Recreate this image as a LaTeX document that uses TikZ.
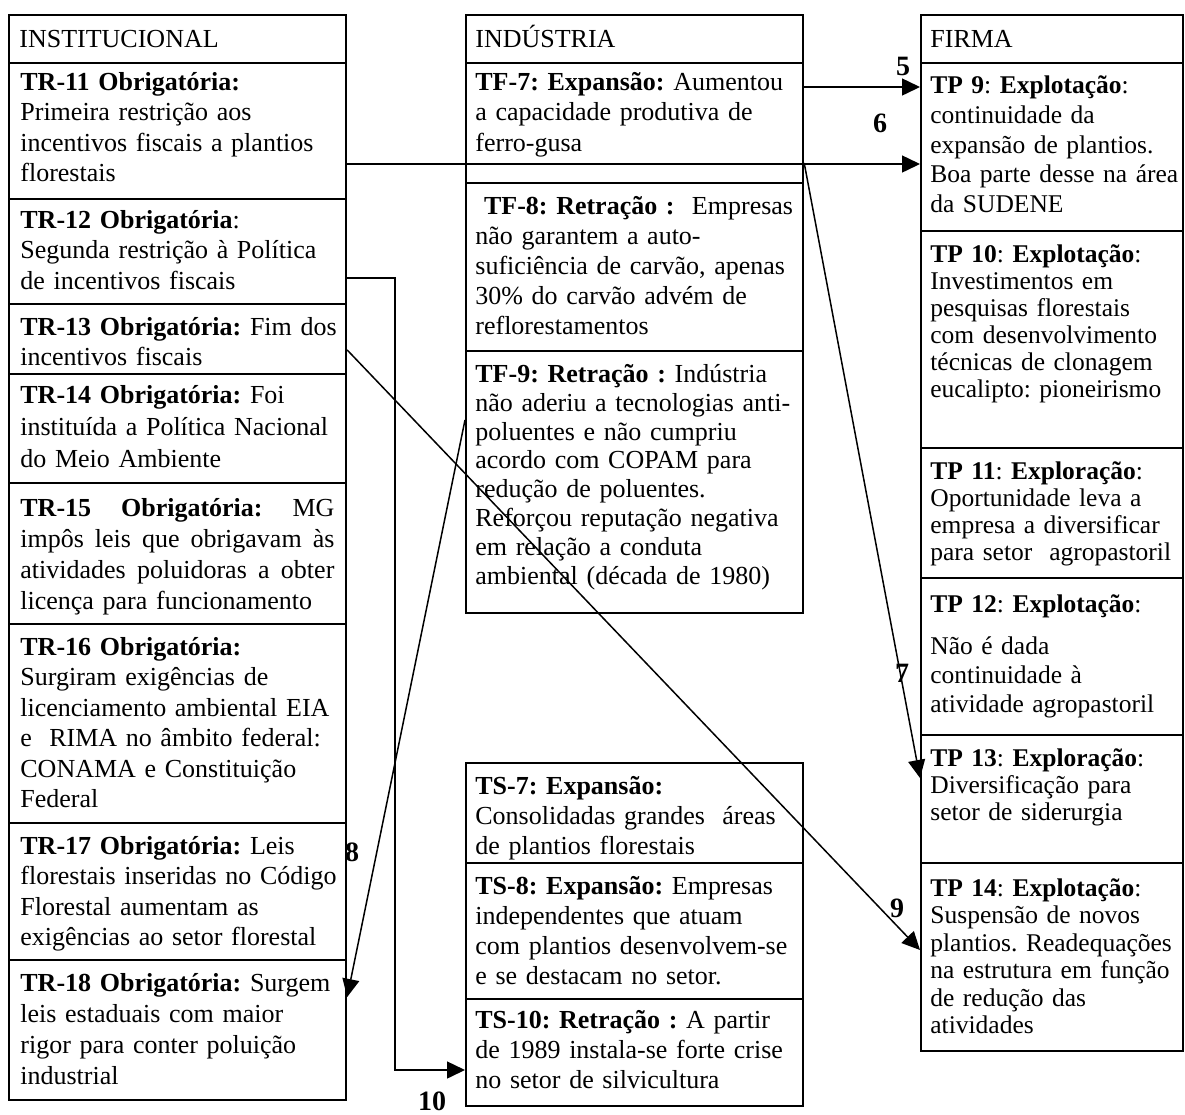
\documentclass[tikz,border=0pt]{standalone}
\usepackage{fontspec}
\setmainfont{Liberation Serif}
\usetikzlibrary{arrows.meta,calc}
\frenchspacing
\newcommand\fullline[1]{\leavevmode\hbox to 157pt{#1}}
\begin{document}
\begin{tikzpicture}[x=0.5pt,y=-0.5pt,
  cell/.style={draw, line width=1.1pt, anchor=north west, inner sep=0pt, minimum width=168.5pt},
  fcell/.style={cell, minimum width=131pt},
  txt/.style={anchor=north west, inner sep=0pt, text width=163pt, align=left,
    font=\fontsize{13pt}{#1}\selectfont, execute at begin node={\rule{0pt}{10pt}}},
  ftxt/.style={txt=#1, text width=130pt, font=\fontsize{12.75pt}{#1}\selectfont},
  head/.style={anchor=base west, inner sep=0pt, font=\fontsize{13pt}{15pt}\selectfont},
  conn/.style={line width=0.75pt, -{Triangle[length=9pt,width=8.5pt]}},
  num/.style={font=\fontsize{14pt}{14pt}\selectfont\bfseries, inner sep=0pt}
]
\useasboundingbox (0,0) rectangle (1185,1115);

% ---------------- INSTITUCIONAL ----------------
\node[cell, minimum height=24pt] (hinst) at (8,14) {};
\node[head] (hinstt) at ([shift={(5.5pt,-16.5pt)}]hinst.north west) {INSTITUCIONAL};

\node[cell, minimum height=68pt] (tr11) at (8,62) {};
\node[txt=15.25pt] (tr11t) at ([shift={(6pt,-4pt)}]tr11.north west)
  {\textbf{TR-11 Obrigatória:}\\Primeira restrição aos\\incentivos fiscais a plantios\\florestais};

\node[cell, minimum height=52.5pt] (tr12) at (8,198) {};
\node[txt=15.25pt] (tr12t) at ([shift={(6pt,-5pt)}]tr12.north west)
  {\textbf{TR-12 Obrigatória}:\\Segunda restrição à Política\\de incentivos fiscais};

\node[cell, minimum height=35pt] (tr13) at (8,303) {};
\node[txt=15.25pt] (tr13t) at ([shift={(6pt,-6pt)}]tr13.north west)
  {\textbf{TR-13 Obrigatória:} Fim dos\\incentivos fiscais};

\node[cell, minimum height=54.5pt] (tr14) at (8,373) {};
\node[txt=16pt] (tr14t) at ([shift={(6pt,-5pt)}]tr14.north west)
  {\textbf{TR-14 Obrigatória:} Foi\\instituída a Política Nacional\\do Meio Ambiente};

% justified paragraph: each full line spread to the cell width
\node[cell, minimum height=70.5pt] (tr15) at (8,482) {};
\node[txt=15.5pt] (tr15t) at ([shift={(6pt,-7pt)}]tr15.north west)
  {\fullline{\textbf{TR-15}\hfill\textbf{Obrigatória:}\hfill MG}\\
   \fullline{impôs\hfill leis\hfill que\hfill obrigavam\hfill às}\\
   \fullline{atividades\hfill poluidoras\hfill a\hfill obter}\\
   licença para funcionamento};

\node[cell, minimum height=99.5pt] (tr16) at (8,623) {};
\node[txt=15.25pt] (tr16t) at ([shift={(6pt,-6pt)}]tr16.north west)
  {\textbf{TR-16 Obrigatória:}\\Surgiram exigências de\\licenciamento ambiental EIA\\e\ \ RIMA no âmbito federal:\\CONAMA e Constituição\\Federal};

\node[cell, minimum height=68.5pt] (tr17) at (8,822) {};
\node[txt=15.25pt] (tr17t) at ([shift={(6pt,-6pt)}]tr17.north west)
  {\textbf{TR-17 Obrigatória:} Leis\\florestais inseridas no Código\\Florestal aumentam as\\exigências ao setor florestal};

\node[cell, minimum height=70pt] (tr18) at (8,959) {};
\node[txt=15.5pt] (tr18t) at ([shift={(6pt,-6pt)}]tr18.north west)
  {\textbf{TR-18 Obrigatória:} Surgem\\leis estaduais com maior\\rigor para conter poluição\\industrial};

% ---------------- INDÚSTRIA ----------------
\node[cell, minimum height=24pt] (hind) at (465,14) {};
\node[head] (hindt) at ([shift={(5pt,-16.5pt)}]hind.north west) {INDÚSTRIA};

\node[cell, minimum height=60pt] (tf7) at (465,62) {};
\node[txt=15.25pt] (tf7t) at ([shift={(5pt,-4pt)}]tf7.north west)
  {\textbf{TF-7: Expansão:} Aumentou\\a capacidade produtiva de\\ferro-gusa};

\node[cell, minimum height=84pt] (tf8) at (465,182) {};
\node[txt=15pt] (tf8t) at ([shift={(5pt,-6pt)}]tf8.north west)
  {\ \textbf{TF-8: Retração :}\ \ Empresas\\não garantem a auto-\\suficiência de carvão, apenas\\30\% do carvão advém de\\reflorestamentos};

\node[cell, minimum height=131pt] (tf9) at (465,350) {};
\node[txt=14.4pt] (tf9t) at ([shift={(5pt,-6pt)}]tf9.north west)
  {\textbf{TF-9: Retração :} Indústria\\não aderiu a tecnologias anti-\\poluentes e não cumpriu\\acordo com COPAM para\\redução de poluentes.\\Reforçou reputação negativa\\em relação a conduta\\ambiental (década de 1980)};

\node[cell, minimum height=50pt] (ts7) at (465,762) {};
\node[txt=15pt] (ts7t) at ([shift={(5pt,-6pt)}]ts7.north west)
  {\textbf{TS-7: Expansão:}\\Consolidadas grandes\ \ áreas\\de plantios florestais};

\node[cell, minimum height=68pt] (ts8) at (465,862) {};
\node[txt=15pt] (ts8t) at ([shift={(5pt,-6pt)}]ts8.north west)
  {\textbf{TS-8: Expansão:} Empresas\\independentes que atuam\\com plantios desenvolvem-se\\e se destacam no setor.};

\node[cell, minimum height=53.5pt] (ts10) at (465,998) {};
\node[txt=15pt] (ts10t) at ([shift={(5pt,-5pt)}]ts10.north west)
  {\textbf{TS-10: Retração :} A partir\\de 1989 instala-se forte crise\\no setor de silvicultura};

% ---------------- FIRMA ----------------
\node[fcell, minimum height=24pt] (hfir) at (920,14) {};
\node[head] (hfirt) at ([shift={(5pt,-16.5pt)}]hfir.north west) {FIRMA};

\node[fcell, minimum height=84pt] (tp9) at (920,62) {};
\node[ftxt=14.9pt] (tp9t) at ([shift={(5pt,-5.5pt)}]tp9.north west)
  {\textbf{TP 9}: \textbf{Explotação}:\\continuidade da\\expansão de plantios.\\Boa parte desse na área\\da SUDENE};

\node[fcell, minimum height=108.5pt] (tp10) at (920,230) {};
\node[ftxt=13.5pt] (tp10t) at ([shift={(5pt,-6pt)}]tp10.north west)
  {\textbf{TP 10}: \textbf{Explotação}:\\Investimentos em\\pesquisas florestais\\com desenvolvimento\\técnicas de clonagem\\eucalipto: pioneirismo};

\node[fcell, minimum height=65pt] (tp11) at (920,447) {};
\node[ftxt=13.5pt] (tp11t) at ([shift={(5pt,-6pt)}]tp11.north west)
  {\textbf{TP 11}: \textbf{Exploração}:\\Oportunidade leva a\\empresa a diversificar\\para setor\ \ agropastoril};

\node[fcell, minimum height=78.5pt] (tp12) at (920,577) {};
\node[ftxt=14.5pt] (tp12t) at ([shift={(5pt,-7.5pt)}]tp12.north west)
  {\textbf{TP 12}: \textbf{Explotação}:\\[6.5pt]Não é dada\\continuidade à\\atividade agropastoril};

\node[fcell, minimum height=64pt] (tp13) at (920,734) {};
\node[ftxt=13.5pt] (tp13t) at ([shift={(5pt,-6pt)}]tp13.north west)
  {\textbf{TP 13}: \textbf{Exploração}:\\Diversificação para\\setor de siderurgia};

\node[fcell, minimum height=94pt] (tp14) at (920,862) {};
\node[ftxt=13.75pt] (tp14t) at ([shift={(5pt,-7pt)}]tp14.north west)
  {\textbf{TP 14}: \textbf{Explotação}:\\Suspensão de novos\\plantios. Readequações\\na estrutura em função\\de redução das\\atividades};

% ---------------- connectors ----------------
\draw[conn] ($(tf7.north east)+(0,25)$) -- ($(tp9.north west)+(0,25)$);
\draw[conn] ($(tr11.north east)+(0,102)$) -- ($(tp9.north west)+(0,102)$);
\draw[conn] ($(tf7.north east)+(0,101)$) -- ($(tp13.north west)+(0,44)$);
\draw[conn] ($(tf9.north west)+(0,70)$) -- ($(tr18.north east)+(0,38)$);
\draw[conn] ($(tr13.north east)+(0,47)$) -- ($(tp14.north west)+(0,88)$);
\draw[conn] ($(tr12.north east)+(0,80)$) -- ++(48,0) |- ($(ts10.north west)+(0,72)$);

% ---------------- connector numbers ----------------
\node[num] (n5) at (903,66) {5};
\node[num] (n6) at (880,123) {6};
\node[num] (n7) at (902,673) {7};
\node[num] (n8) at (352,852) {8};
\node[num] (n9) at (897,908) {9};
\node[num] (n10) at (432,1101) {10};
\end{tikzpicture}
\end{document}
